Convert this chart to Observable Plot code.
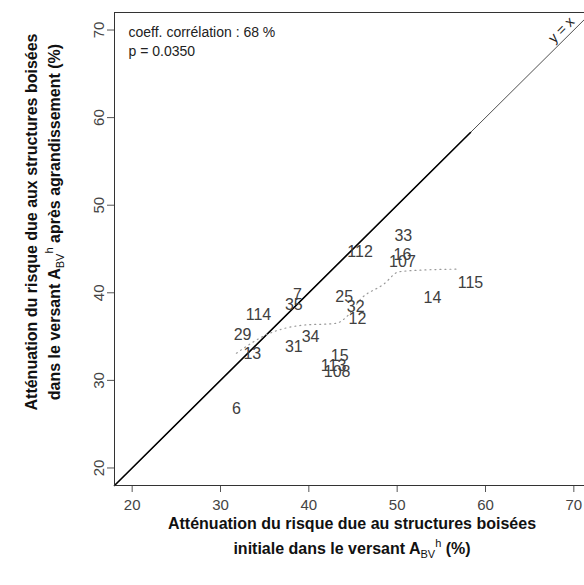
<!DOCTYPE html>
<html>
<head>
<meta charset="utf-8">
<script src="https://cdn.jsdelivr.net/npm/d3@7"></script>
<script src="https://cdn.jsdelivr.net/npm/@observablehq/plot@0.6"></script>
<style>
  html, body { margin: 0; padding: 0; background: #fff; overflow: hidden; }
  #chart { width: 584px; height: 585px; }
</style>
</head>
<body>
<div id="chart"></div>
<script>
// ---- data ----
const ids = ["33","112","16","107","115","14","7","35","25","32","12","114","29","34","31","13","15","113","108","6"];
const xVals = [50.7,45.8,50.6,50.6,58.3,54.0,38.7,38.3,44.0,45.3,45.5,34.3,32.5,40.2,38.3,33.6,43.5,42.8,43.2,31.8];
const yVals = [46.5,44.7,44.3,43.5,41.1,39.4,39.8,38.6,39.5,38.4,37.0,37.5,35.2,35.0,33.8,33.0,32.8,31.7,31.0,26.7];

// smoothed (lowess-like) dotted curve
const smoothX = [31.8,35.4,39.3,43.0,44.6,45.7,48.5,50.2,53.0,56.8];
const smoothY = [33.1,35.3,36.3,36.5,37.6,39.1,41.0,42.4,42.6,42.7];

// identity line extents
const identityFull = [18, 72];
const identityData = [18, 58.3];

const xTicks = [20,30,40,50,60,70];
const yTicks = [20,30,40,50,60,70];
const xDomain = [18, 72];
const yDomain = [18, 72];

const statsLines = ["coeff. corrélation : 68 %", "p = 0.0350"];
const identityLabel = ["y = x"];
const identityLabelPos = [68.6, 70.0];

// ---- build tables ----
const points = ids.map((id, i) => ({id, x: xVals[i], y: yVals[i]}));
const smooth = smoothX.map((x, i) => ({x, y: smoothY[i]}));
const idFull = identityFull.map(v => ({x: v, y: v}));
const idData = identityData.map(v => ({x: v, y: v}));

const plot = Plot.plot({
  width: 584,
  height: 585,
  marginLeft: 114,
  marginTop: 12,
  marginBottom: 100,
  marginRight: -7,
  style: {fontFamily: "'Liberation Sans', Arial, sans-serif", background: "#fff", overflow: "visible"},
  x: {domain: xDomain, label: null},
  y: {domain: yDomain, label: null},
  marks: [
    Plot.line(idFull, {x: "x", y: "y", stroke: "#222", strokeWidth: 0.8}),
    Plot.line(idData, {x: "x", y: "y", stroke: "#000", strokeWidth: 1.6}),
    Plot.line(smooth, {x: "x", y: "y", stroke: "#999", strokeWidth: 1.2, strokeDasharray: "1,4", curve: "monotone-x"}),
    Plot.text(points, {x: "x", y: "y", text: "id", fontSize: 16, fill: "#404040", textAnchor: "middle"}),
    Plot.text(identityLabel, {x: () => identityLabelPos[0], y: () => identityLabelPos[1], text: d => d, rotate: -45, fontSize: 14, fill: "#222"}),
    Plot.text([statsLines.join("\n")], {frameAnchor: "top-left", text: d => d, dx: 14, dy: 11, fontSize: 14, fill: "#222", lineHeight: 1.35, textAnchor: "start", lineAnchor: "top"}),
    Plot.axisX({ticks: xTicks, tickSize: 7, tickPadding: 7, fontSize: 15, color: "#444", stroke: "#555", label: null}),
    Plot.axisY({ticks: yTicks, tickSize: 7, tickPadding: 4, fontSize: 15, color: "#444", stroke: "#555", tickRotate: -90, label: null}),
    Plot.frame({stroke: "#333", strokeWidth: 1})
  ]
});

document.getElementById("chart").appendChild(plot);

// ---- axis titles with subscripts / superscripts ----
const svg = d3.select(plot);
const ff = "'Liberation Sans', Arial, sans-serif";

// x title
const xt = svg.append("g").attr("font-family", ff).attr("fill", "#111").attr("text-anchor", "middle");
xt.append("text").attr("x", 352).attr("y", 529).attr("font-size", 16).attr("font-weight", "bold")
  .text("Atténuation du risque due au structures boisées");
const x2 = xt.append("text").attr("x", 352).attr("y", 554).attr("font-size", 16).attr("font-weight", "bold");
x2.append("tspan").text("initiale dans le versant A");
x2.append("tspan").attr("font-size", 11).attr("font-weight", "normal").attr("dy", 4).text("BV");
x2.append("tspan").attr("font-size", 11).attr("font-weight", "normal").attr("dy", -11).text("h");
x2.append("tspan").attr("dy", 7).text(" (%)");

// y title
const yt = svg.append("g").attr("font-family", ff).attr("fill", "#111").attr("text-anchor", "middle");
yt.append("text").attr("transform", "translate(37,222) rotate(-90)").attr("font-size", 16).attr("font-weight", "bold")
  .text("Atténuation du risque due aux structures boisées");
const y2 = yt.append("text").attr("transform", "translate(60,222) rotate(-90)").attr("font-size", 16).attr("font-weight", "bold");
y2.append("tspan").text("dans le versant A");
y2.append("tspan").attr("font-size", 11).attr("font-weight", "normal").attr("dy", 4).text("BV");
y2.append("tspan").attr("font-size", 11).attr("font-weight", "normal").attr("dy", -11).text("h");
y2.append("tspan").attr("dy", 7).text(" après agrandissement (%)");
</script>
</body>
</html>
